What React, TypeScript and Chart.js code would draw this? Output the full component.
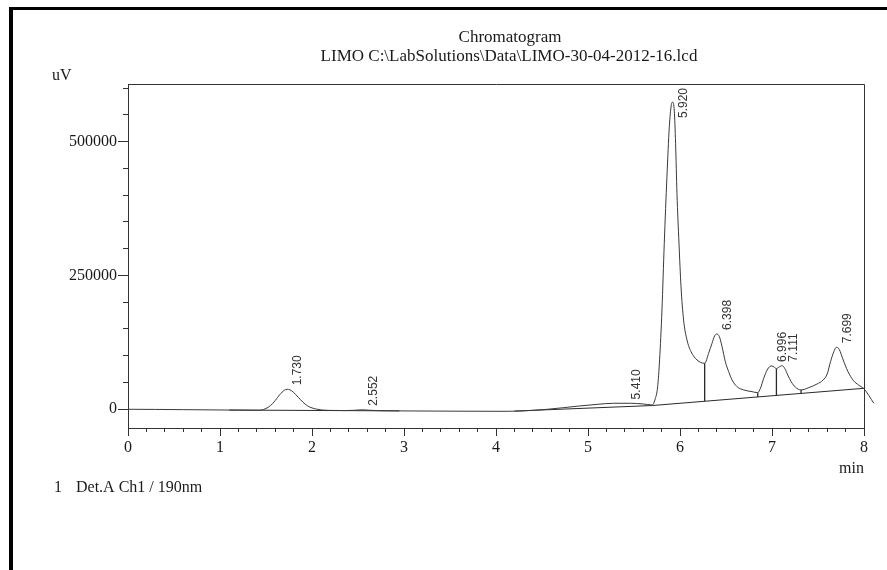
import React, { useEffect, useRef } from "react";
import { Chart, registerables } from "chart.js";

Chart.register(...registerables);

// ---- Data ----
const retentionTimes = [
  0.0, 0.3, 0.6, 1.0, 1.2, 1.4, 1.45, 1.5, 1.55, 1.6, 1.65, 1.7, 1.73, 1.76, 1.8, 1.85, 1.9, 1.95, 2.0, 2.05,
  2.1, 2.2, 2.35, 2.45, 2.55, 2.62, 2.75, 3.0, 3.5, 4.0, 4.26, 4.56, 4.91, 5.1, 5.28, 5.46, 5.6, 5.7,
  5.727, 5.757, 5.778, 5.804, 5.829, 5.858, 5.884, 5.905, 5.92, 5.938, 5.952, 5.967, 5.989, 6.011, 6.039,
  6.076, 6.12, 6.185, 6.268, 6.311, 6.348, 6.376, 6.4, 6.428, 6.457, 6.493, 6.529, 6.566, 6.62, 6.692,
  6.783, 6.845, 6.874, 6.91, 6.947, 6.975, 6.998, 7.026, 7.048, 7.073, 7.111, 7.138, 7.171, 7.208, 7.255,
  7.316, 7.4, 7.49, 7.556, 7.6, 7.636, 7.672, 7.7, 7.73, 7.774, 7.824, 7.883, 7.943, 7.998, 8.107,
];
const signal = [
  0, -300, -700, -1300, -1600, -1900, -1500, 1500, 7000, 16300, 27400, 35700, 37300, 36300, 31500, 22500,
  13500, 6500, 2500, 300, -1200, -2100, -2400, -2000, -1000, -1800, -2700, -3100, -3500, -3800, -3300, 0,
  6200, 9200, 11200, 11200, 9900, 8000, 17400, 42200, 92100, 185500, 310200, 434600, 528000, 568000,
  574000, 557000, 497000, 403600, 310200, 229100, 166900, 129500, 107600, 92100, 85900, 104600, 123300,
  137000, 140700, 135700, 117000, 88900, 70300, 54700, 42200, 36100, 32900, 31000, 39200, 57900, 73400,
  79600, 80900, 78500, 75900, 78500, 81500, 76600, 64100, 51600, 41100, 36100, 40400, 47300, 54700, 66000,
  88900, 107600, 115800, 112100, 92100, 71000, 54000, 45000, 38500, 11200,
];

const peakTimes = [1.73, 2.552, 5.41, 5.92, 6.398, 6.996, 7.111, 7.699];
const peakHeights = [37300, -1000, 11000, 574000, 140700, 80900, 81500, 115800];
const peakLabels = ["1.730", "2.552", "5.410", "5.920", "6.398", "6.996", "7.111", "7.699"];

// integration baselines (start time, start value, end time, end value)
const baseStartTimes = [1.1, 4.2, 5.7];
const baseStartValues = [-1450, -3400, 7000];
const baseEndTimes = [2.95, 5.7, 8.0];
const baseEndValues = [-3050, 7000, 39200];

// drop lines between peaks
const dropTimes = [6.268, 6.845, 7.048, 7.316];
const dropTops = [85900, 31000, 75900, 36100];
const dropBottoms = [14850, 22950, 25800, 29600];

// axes
const xMin = 0;
const xMax = 8;
const yMin = -35000;
const yMax = 607800;
const xMajorTicks = [0, 1, 2, 3, 4, 5, 6, 7, 8];
const xMinorTicks = [
  0, 0.2, 0.4, 0.6, 0.8, 1, 1.2, 1.4, 1.6, 1.8, 2, 2.2, 2.4, 2.6, 2.8, 3, 3.2, 3.4, 3.6, 3.8, 4, 4.2, 4.4,
  4.6, 4.8, 5, 5.2, 5.4, 5.6, 5.8, 6, 6.2, 6.4, 6.6, 6.8, 7, 7.2, 7.4, 7.6, 7.8, 8,
];
const yMajorTicks = [0, 250000, 500000];
const yMinorTicks = [0, 50000, 100000, 150000, 200000, 250000, 300000, 350000, 400000, 450000, 500000, 550000, 600000];

const titleLines = ["Chromatogram", "LIMO C:\\LabSolutions\\Data\\LIMO-30-04-2012-16.lcd"];
const yUnit = "uV";
const xUnit = "min";
const legendIndex = "1";
const legendText = "Det.A Ch1 / 190nm";

const SERIF = '"Liberation Serif", "Times New Roman", Times, serif';
const SANS = '"Liberation Sans", Arial, sans-serif';
const AXIS_COLOR = "#333";
const TEXT_COLOR = "#1a1a1a";
const LINE_COLOR = "#3a3a3a";

const annotationPlugin = {
  id: "chromAnnotations",
  beforeDraw(chart: any) {
    const ctx = chart.ctx;
    ctx.save();
    ctx.fillStyle = "#fff";
    ctx.fillRect(0, 0, chart.width, chart.height);
    ctx.fillStyle = "#000";
    ctx.fillRect(9, 7, 4, chart.height - 7);
    ctx.fillRect(9, 7, chart.width - 9, 3);
    ctx.restore();
  },
  afterDatasetsDraw(chart: any) {
    const ctx = chart.ctx;
    const xs = chart.scales.x;
    const ys = chart.scales.y;
    const area = chart.chartArea;
    ctx.save();
    ctx.font = `12px ${SANS}`;
    ctx.fillStyle = "#333";
    ctx.textAlign = "left";
    ctx.textBaseline = "middle";
    peakTimes.forEach((t, i) => {
      const label = peakLabels[i];
      const w = ctx.measureText(label).width;
      const px = xs.getPixelForValue(t) + 11;
      let py = ys.getPixelForValue(peakHeights[i]) - 4;
      py = Math.max(py, area.top + 4 + w);
      ctx.save();
      ctx.translate(px, py);
      ctx.rotate(-Math.PI / 2);
      ctx.fillText(label, 0, 0);
      ctx.restore();
    });
    ctx.restore();
  },
  afterDraw(chart: any) {
    const ctx = chart.ctx;
    const area = chart.chartArea;
    ctx.save();
    // top and right sides of the plot box
    ctx.strokeStyle = AXIS_COLOR;
    ctx.lineWidth = 1;
    ctx.beginPath();
    ctx.moveTo(Math.round(area.left) + 0.5, Math.round(area.top) + 0.5);
    ctx.lineTo(Math.round(area.right) + 0.5, Math.round(area.top) + 0.5);
    ctx.lineTo(Math.round(area.right) + 0.5, Math.round(area.bottom) + 0.5);
    ctx.stroke();

    ctx.fillStyle = TEXT_COLOR;
    ctx.font = `17px ${SERIF}`;
    ctx.textAlign = "center";
    ctx.textBaseline = "alphabetic";
    ctx.fillText(titleLines[0], 510, 42);
    ctx.fillText(titleLines[1], 509, 61);

    ctx.font = `16px ${SERIF}`;
    ctx.textAlign = "left";
    ctx.fillText(yUnit, 52, 80);
    ctx.textAlign = "right";
    ctx.fillText(xUnit, Math.round(area.right), 473);
    ctx.textAlign = "left";
    ctx.fillText(legendIndex, 54, 492);
    ctx.fillText(legendText, 76, 492);
    ctx.restore();
  },
};

const setTicks = (list: number[]) => (scale: any) => {
  scale.ticks = list.map((v) => ({ value: v }));
};

export default function App() {
  const canvasRef = useRef<HTMLCanvasElement | null>(null);

  useEffect(() => {
    const canvas = canvasRef.current;
    if (!canvas) return;

    const curve = retentionTimes.map((t, i) => ({ x: t, y: signal[i] }));
    const baselineSets = baseStartTimes.map((t, i) => ({
      type: "line" as const,
      data: [
        { x: t, y: baseStartValues[i] },
        { x: baseEndTimes[i], y: baseEndValues[i] },
      ],
      borderColor: "#2a2a2a",
      borderWidth: 1,
      pointRadius: 0,
      tension: 0,
      xAxisID: "x",
      yAxisID: "y",
    }));
    const dropSets = dropTimes.map((t, i) => ({
      type: "line" as const,
      data: [
        { x: t, y: dropTops[i] },
        { x: t, y: dropBottoms[i] },
      ],
      borderColor: "#2a2a2a",
      borderWidth: 1.3,
      pointRadius: 0,
      tension: 0,
      xAxisID: "x",
      yAxisID: "y",
    }));

    const tickFont = { family: SERIF, size: 16 };

    const chart = new Chart(canvas, {
      type: "line",
      data: {
        datasets: [
          {
            label: "Det.A Ch1 / 190nm",
            data: curve,
            borderColor: LINE_COLOR,
            borderWidth: 1,
            pointRadius: 0,
            cubicInterpolationMode: "monotone",
            clip: { left: 0, top: 0, right: 14, bottom: 0 } as any,
            xAxisID: "x",
            yAxisID: "y",
          },
          ...baselineSets,
          ...dropSets,
        ] as any,
      },
      options: {
        animation: false,
        responsive: false,
        maintainAspectRatio: false,
        devicePixelRatio: 1,
        layout: { padding: { left: 0, top: 84, right: 23, bottom: 0 } },
        plugins: {
          legend: { display: false },
          tooltip: { enabled: false },
          title: { display: false },
        },
        scales: {
          x: {
            type: "linear",
            position: "bottom",
            min: xMin,
            max: xMax,
            weight: 1,
            afterBuildTicks: setTicks(xMajorTicks),
            ticks: {
              autoSkip: false,
              maxRotation: 0,
              color: TEXT_COLOR,
              font: tickFont,
              padding: 2,
              callback: (v: any) => String(v),
            },
            grid: { drawOnChartArea: false, color: AXIS_COLOR, tickLength: 8 },
            border: { display: true, color: AXIS_COLOR },
            afterFit: (s: any) => {
              s.height = 142;
            },
          },
          xMinor: {
            type: "linear",
            position: "bottom",
            min: xMin,
            max: xMax,
            weight: 0,
            afterBuildTicks: setTicks(xMinorTicks),
            ticks: { autoSkip: false, display: false },
            grid: { drawOnChartArea: false, color: AXIS_COLOR, tickLength: 4 },
            border: { display: false },
            afterFit: (s: any) => {
              s.height = 0;
            },
          },
          y: {
            type: "linear",
            position: "left",
            min: yMin,
            max: yMax,
            weight: 1,
            afterBuildTicks: setTicks(yMajorTicks),
            ticks: {
              autoSkip: false,
              color: TEXT_COLOR,
              font: tickFont,
              padding: 1,
              callback: (v: any) => String(v),
            },
            grid: { drawOnChartArea: false, color: AXIS_COLOR, tickLength: 10 },
            border: { display: true, color: AXIS_COLOR },
            afterFit: (s: any) => {
              s.width = 128;
            },
          },
          yMinor: {
            type: "linear",
            position: "left",
            min: yMin,
            max: yMax,
            weight: 0,
            afterBuildTicks: setTicks(yMinorTicks),
            ticks: { autoSkip: false, display: false },
            grid: { drawOnChartArea: false, color: AXIS_COLOR, tickLength: 5 },
            border: { display: false },
            afterFit: (s: any) => {
              s.width = 0;
            },
          },
        },
      } as any,
      plugins: [annotationPlugin],
    });

    return () => {
      chart.destroy();
    };
  }, []);

  return (
    <div style={{ position: "fixed", left: 0, top: 0, width: 887, height: 570, background: "#fff" }}>
      <canvas ref={canvasRef} width={887} height={570} style={{ display: "block" }} />
    </div>
  );
}
